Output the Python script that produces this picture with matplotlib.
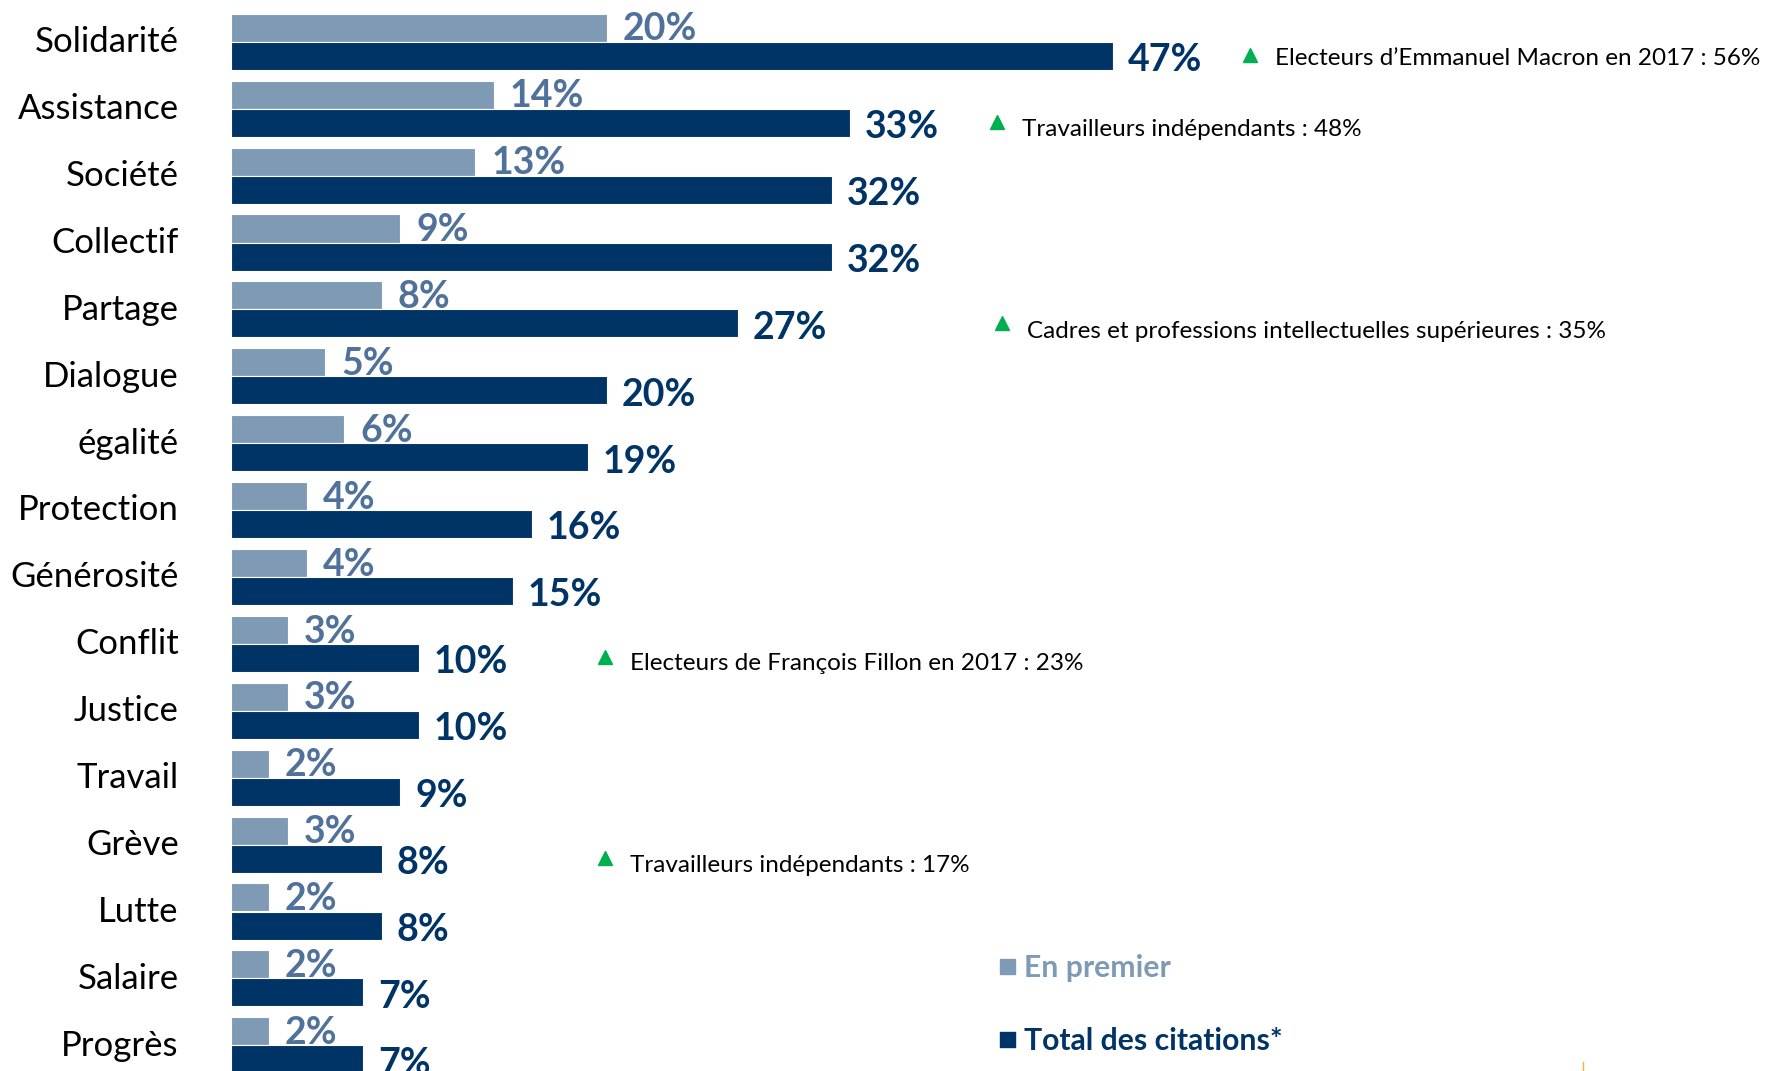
import matplotlib.pyplot as plt
from matplotlib.patches import Rectangle
from matplotlib.lines import Line2D

# --- data ---
categories = ['Solidarité', 'Assistance', 'Société', 'Collectif', 'Partage', 'Dialogue',
              'égalité', 'Protection', 'Générosité', 'Conflit', 'Justice', 'Travail',
              'Grève', 'Lutte', 'Salaire', 'Progrès']
en_premier = [20, 14, 13, 9, 8, 5, 6, 4, 4, 3, 3, 2, 3, 2, 2, 2]
total_citations = [47, 33, 32, 32, 27, 20, 19, 16, 15, 10, 10, 9, 8, 8, 7, 7]

note_rows = [0, 1, 4, 9, 12]
note_texts = ["Electeurs d\u2019Emmanuel Macron en 2017 : 56%",
              "Travailleurs indépendants : 48%",
              "Cadres et professions intellectuelles supérieures : 35%",
              "Electeurs de François Fillon en 2017 : 23%",
              "Travailleurs indépendants : 17%"]

# annotation placement (data units)
note_x = [54.3, 40.8, 41.1, 19.9, 19.9]
note_dy = [0.22, 0.28, 0.30, 0.27, 0.28]

# --- style ---
light = '#7f9ab5'
light_txt = '#50729a'
dark = '#003366'
green = '#00b050'
font = 'Lato'

fig = plt.figure(figsize=(17.71, 10.71), dpi=100)
ax = fig.add_axes([231.5 / 1771, 0, 1 - 231.5 / 1771, 1])

h = 0.42
ys = list(range(len(categories)))
ax.barh([y - h / 2 for y in ys], en_premier, height=h, color=light,
        edgecolor='white', linewidth=0.8, zorder=1)
ax.barh([y + h / 2 for y in ys], total_citations, height=h, color=dark,
        edgecolor='white', linewidth=0.8, zorder=3)

for y, v1, v2 in zip(ys, en_premier, total_citations):
    # light labels sit behind the dark bars, as in the original
    ax.text(v1 + 0.85, y - h / 2 - 0.02, f"{v1}%", color=light_txt, fontsize=27,
            fontweight='bold', family=font, va='center_baseline', ha='left', zorder=2)
    ax.text(v2 + 0.8, y + h / 2 + 0.02, f"{v2}%", color=dark, fontsize=27,
            fontweight='bold', family=font, va='center_baseline', ha='left', zorder=4)

for r, txt, x, dy in zip(note_rows, note_texts, note_x, note_dy):
    ax.plot(x, r + 0.2, marker='^', color=green, markersize=10, clip_on=False)
    ax.text(x + 1.35, r + dy, txt, fontsize=17.5, family=font, color='black',
            va='center_baseline', ha='left')

ax.set_xlim(0, (1771 - 231.5) / 18.75)
ax.set_ylim((1071 - 41.8) / 66.9, -41.8 / 66.9)
ax.set_yticks([y - 0.04 for y in ys])
ax.set_yticklabels(categories, fontsize=25, family=font)
ax.tick_params(axis='y', length=0, pad=38)
ax.set_xticks([])
for s in ax.spines.values():
    s.set_visible(False)

# legend drawn by hand
fig.patches.append(Rectangle((1000 / 1771, 1 - 974 / 1071), 15 / 1771, 15 / 1071,
                             transform=fig.transFigure, color=light))
fig.text(1024 / 1771, 1 - 966 / 1071, 'En premier', color=light, fontsize=21.7,
         fontweight='bold', family=font, va='center_baseline')
fig.patches.append(Rectangle((1000 / 1771, 1 - 1047 / 1071), 15 / 1771, 15 / 1071,
                             transform=fig.transFigure, color=dark))
fig.text(1024 / 1771, 1 - 1039 / 1071, 'Total des citations*', color=dark, fontsize=21.7,
         fontweight='bold', family=font, va='center_baseline')

fig.lines.append(Line2D([1583 / 1771, 1583 / 1771], [0, 9 / 1071], transform=fig.transFigure,
                        color='#f5b041', linewidth=1))

fig.savefig('out.png', dpi=100)
